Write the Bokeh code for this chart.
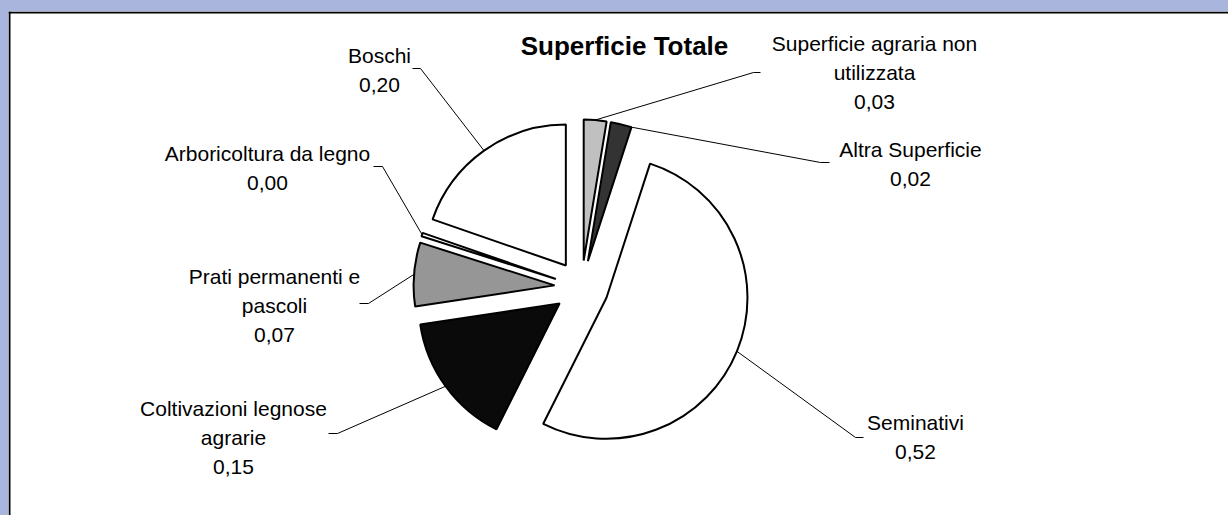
import math
from bokeh.plotting import figure
from bokeh.models import ColumnDataSource, Range1d, Span
from bokeh.core.properties import value
from bokeh.embed import file_html
from bokeh.resources import INLINE

# ---------------- data ----------------
title_text = "Superficie Totale"
categories = [
    "Superficie agraria non\nutilizzata",
    "Altra Superficie",
    "Seminativi",
    "Coltivazioni legnose\nagrarie",
    "Prati permanenti e\npascoli",
    "Arboricoltura da legno",
    "Boschi",
]
values = [0.026, 0.024, 0.524, 0.152, 0.073, 0.004, 0.197]
colors = ["#C0C0C0", "#333333", "#FFFFFF", "#0A0A0A", "#969696", "#FFFFFF", "#FFFFFF"]

# ---------------- layout (page pixel coordinates) ----------------
W, H = 1228, 515
LEFT, TOP = 8, 11
PAGE_BOTTOM = H              # 515
def dy(py):                  # page y -> data y (y up)
    return PAGE_BOTTOM - py

CX, CY = 581, 287            # pie centre (page)
R = 141
EXPLODE = 27
label_pos = [(874, 43), (910, 149), (915, 422), (233, 408), (274, 276), (267, 153), (379, 55)]
elbows = [(753, 72), (820, 162), (855, 437), (337, 433), (368, 303), (382, 166), (420, 68)]
ends = [(760, 72), (829, 162), (863, 437), (328, 433), (359, 303), (373, 166), (412, 68)]
attach = [0.5, 1.0, 0.5, 0.5, 0.5, 0.5, 0.5]
LINE_SP = 29
FONT = "Liberation Sans"
BLUE = "#A9B5DD"

p = figure(width=W, height=H, output_backend="svg", toolbar_location=None,
           x_range=Range1d(LEFT, W), y_range=Range1d(0, H - TOP),
           x_axis_type=None, y_axis_type=None, min_border=0)
p.min_border_top = TOP
p.min_border_left = LEFT
p.min_border_right = 0
p.min_border_bottom = 0
p.grid.visible = False
p.border_fill_color = BLUE
p.background_fill_color = "white"
p.outline_line_color = None

# ---------------- wedges ----------------
total = sum(values)
cum = 0.0
wx, wy, sa, ea = [], [], [], []
lead_xs, lead_ys = [], []
for i, v in enumerate(values):
    t1 = cum / total * 2 * math.pi
    cum += v
    t2 = cum / total * 2 * math.pi
    tm = (t1 + t2) / 2
    ax = CX + EXPLODE * math.sin(tm)
    ay = dy(CY) + EXPLODE * math.cos(tm)
    wx.append(ax)
    wy.append(ay)
    sa.append(math.pi / 2 - t2)
    ea.append(math.pi / 2 - t1)
    ta = t1 + (t2 - t1) * attach[i]
    px = ax + R * math.sin(ta)
    py = ay + R * math.cos(ta)
    lead_xs.append([px, elbows[i][0], ends[i][0]])
    lead_ys.append([py, dy(elbows[i][1]), dy(ends[i][1])])

src = ColumnDataSource(dict(x=wx, y=wy, sa=sa, ea=ea, c=colors))
p.wedge(x="x", y="y", radius=R, start_angle="sa", end_angle="ea",
        fill_color="c", line_color="black", line_width=2, source=src)

p.multi_line(xs=lead_xs, ys=lead_ys, line_color="black", line_width=1)

# ---------------- labels ----------------
tx, ty, tt = [], [], []
for i, (name, v) in enumerate(zip(categories, values)):
    lines = name.split("\n") + [f"{v:.2f}".replace(".", ",")]
    lx, ly = label_pos[i]
    for k, ln in enumerate(lines):
        tx.append(lx)
        ty.append(dy(ly + k * LINE_SP))
        tt.append(ln)
p.text(x=tx, y=ty, text=tt, text_align="center", text_baseline="middle",
       text_font=value(FONT), text_font_size="21px", text_color="black")

p.text(x=[624], y=[dy(45)], text=[title_text], text_align="center", text_baseline="middle",
       text_font=value(FONT), text_font_size="26px", text_font_style="bold", text_color="black")

# ---------------- frame borders (top / left) ----------------
p.add_layout(Span(location=9, dimension="height", line_color="black", line_width=2))
p.add_layout(Span(location=dy(12), dimension="width", line_color="black", line_width=2))

html = file_html(p, INLINE)
html = html.replace("</head>", "<style>html,body{background:%s;}</style></head>" % BLUE, 1)
open("out.html", "w").write(html)
